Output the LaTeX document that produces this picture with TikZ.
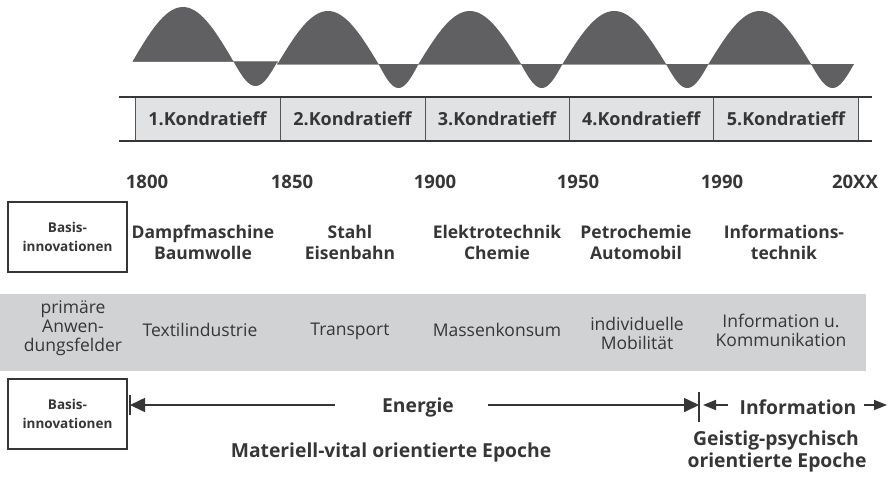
\documentclass[tikz,border=0pt]{standalone}
\usepackage{fontspec}
\setmainfont{Open Sans}
\usetikzlibrary{arrows.meta}
\definecolor{wavegray}{HTML}{606062}
\definecolor{cellgray}{HTML}{E1E2E4}
\definecolor{bandgray}{HTML}{D1D2D4}
\definecolor{ink}{HTML}{363636}
\tikzset{
  lbl/.style={text=ink,inner sep=0pt,align=center},
  kcell/.style={draw=ink!85,line width=0.9pt,fill=cellgray,minimum height=44pt,inner sep=0pt,text=ink,font=\bfseries\fontsize{18}{21}\selectfont},
  yearlbl/.style={lbl,font=\bfseries\fontsize{18.5}{21}\selectfont},
  innolbl/.style={lbl,font=\bfseries\fontsize{17.5}{21}\selectfont},
  bandlbl/.style={lbl,font=\fontsize{17.5}{19}\selectfont},
  basisbox/.style={draw=ink,line width=1.3pt,minimum width=119pt,minimum height=70pt,inner sep=0pt,text=ink,align=center,font=\bfseries\fontsize{13.5}{19}\selectfont},
  biglbl/.style={lbl,font=\bfseries\fontsize{19.3}{22}\selectfont},
  bigarrow/.style={draw=ink,line width=1.6pt,-{Triangle[length=15pt,width=14pt]}},
  smallarrow/.style={draw=ink,line width=1.6pt,-{Triangle[length=13pt,width=10pt]}},
  barline/.style={draw=ink,line width=1.8pt}
}
\begin{document}
\begin{tikzpicture}[x=1pt,y=-1pt]
\useasboundingbox (0,0) rectangle (890,483);
% wave
\draw[gray!70,line width=0.8pt] (132.5,61.5) -- (277.5,61.5) -- (277.5,64) -- (854,64);
\foreach \a/\w/\h/\b in {132.5/101/-54.5/61.5, 233.5/44/24.5/61.5, 277.5/101/-53/64, 378.5/40/24/64,
  418.5/102.5/-53/64, 521/41.5/24/64, 562.5/103.5/-53/64, 666/42.5/24/64, 708.5/102.5/-53/64, 811/43/24/64}
  \fill[wavegray] plot[domain=0:180,samples=41] ({\a+\w*(\x/180)},{\b+\h*sin(\x)}) -- cycle;
% Kondratieff cells
\node[kcell,minimum width=145pt] (k1) at (207.5,119) {1.Kondratieff};
\node[kcell,minimum width=145pt] (k2) at (352.5,119) {2.Kondratieff};
\node[kcell,minimum width=144pt] (k3) at (497,119) {3.Kondratieff};
\node[kcell,minimum width=144.5pt] (k4) at (641.25,119) {4.Kondratieff};
\node[kcell,minimum width=145pt] (k5) at (786,119) {5.Kondratieff};
\coordinate (tl) at (119,97);
\coordinate (tr) at (871.5,97);
\coordinate (bl) at (119,141);
\coordinate (br) at (871.5,141);
\draw[ink,line width=2pt] (tl) -- (tr);
\draw[ink,line width=2pt] (bl) -- (br);
% years
\node[yearlbl] (y1) at (147,182) {1800};
\node[yearlbl] (y2) at (292,182) {1850};
\node[yearlbl] (y3) at (435,182) {1900};
\node[yearlbl] (y4) at (578,182) {1950};
\node[yearlbl] (y5) at (722,182) {1990};
\node[yearlbl] (y6) at (855,182) {20XX};
% basis innovations
\node[basisbox] (b1) at (67.5,237) {Basis-\\innovationen};
\node[innolbl] (i1) at (203,242) {Dampfmaschine\\Baumwolle};
\node[innolbl] (i2) at (350,242) {Stahl\\Eisenbahn};
\node[innolbl] (i3) at (497,242) {Elektrotechnik\\Chemie};
\node[innolbl] (i4) at (636,242) {Petrochemie\\Automobil};
\node[innolbl] (i5) at (784,242) {Informations-\\technik};
% band
\fill[bandgray] (0,294) rectangle (866,371);
\node[bandlbl] (a0) at (73,328) {primäre\\Anwen-\\dungsfelder};
\node[bandlbl] (a1) at (200,330) {Textilindustrie};
\node[bandlbl] (a2) at (350,331) {Transport};
\node[bandlbl] (a3) at (497,330) {Massenkonsum};
\node[bandlbl] (a4) at (637,333) {individuelle\\Mobilität};
\node[bandlbl] (a5) at (781,330) {Information u.\\Kommunikation};
% bottom
\node[basisbox] (b2) at (67.5,414) {Basis-\\innovationen};
\coordinate (bar1t) at (130,395);
\coordinate (bar1b) at (130,415);
\coordinate (bar1) at (130,405);
\draw[barline] (bar1t) -- (bar1b);
\node[biglbl] (en) at (418,407) {Energie};
\coordinate (enL) at (335,405);
\coordinate (enR) at (488,405);
\draw[bigarrow] (enL) -- (bar1);
\coordinate (bar2t) at (699,392);
\coordinate (bar2b) at (699,422);
\coordinate (bar2) at (699,405);
\draw[barline] (bar2t) -- (bar2b);
\draw[bigarrow] (enR) -- (bar2);
\node[biglbl] (inf) at (798,407) {Information};
\coordinate (infL) at (728,405);
\coordinate (infLtip) at (703,405);
\draw[smallarrow] (infL) -- (infLtip);
\coordinate (infR) at (864,405);
\coordinate (infRtip) at (887,405);
\draw[smallarrow] (infR) -- (infRtip);
\node[biglbl] (ep1) at (391,452) {Materiell-vital orientierte Epoche};
\node[biglbl] (ep2a) at (776,440) {Geistig-psychisch};
\node[biglbl] (ep2b) at (777,462) {orientierte Epoche};
\end{tikzpicture}
\end{document}
